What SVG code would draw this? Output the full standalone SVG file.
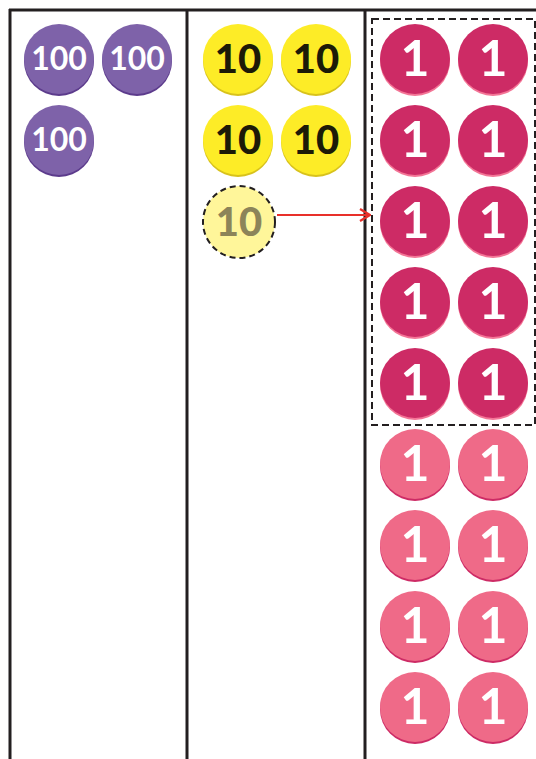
<svg xmlns="http://www.w3.org/2000/svg" width="536" height="759" viewBox="0 0 536 759">
<defs>
<style>
.frame{stroke:#231f20;stroke-width:3;fill:none}
.t{font-family:Lato,"Open Sans","Liberation Sans",sans-serif;font-weight:bold;text-anchor:middle}
.p .s{fill:#5c3b8c}.p .c{fill:#7e62a9}.p text{fill:#fff;font-size:32px}
.y .s{fill:#d8c21c}.y .c{fill:#fdec27}.y text{fill:#1c1a07;font-size:40px;font-weight:900}
.d .s{fill:#f37596}.d .c{fill:#cd2b65}.d text{fill:#fff;font-size:50px}
.l .s{fill:#cd2b65}.l .c{fill:#ef6a88}.l text{fill:#fff;font-size:50px}
</style>
<marker id="ah" viewBox="0 0 12 14" refX="11" refY="7" markerWidth="12" markerHeight="14" markerUnits="userSpaceOnUse" orient="auto"><path d="M1,1 L11,7 L1,13" fill="none" stroke="#e8302a" stroke-width="2.2"/></marker>
</defs>
<rect width="536" height="759" fill="#fff"/>
<g id="frame">
<path class="frame" d="M9,10 H536 M10,9 V759 M187,9 V759 M365,9 V759"/>
</g>
<g id="hundreds" class="p t">
<g id="h1"><circle class="s" cx="59" cy="61" r="35"/><circle class="c" cx="59" cy="59" r="35"/><text x="59" y="70">100</text></g>
<g id="h2"><circle class="s" cx="137" cy="61" r="35"/><circle class="c" cx="137" cy="59" r="35"/><text x="137" y="70">100</text></g>
<g id="h3"><circle class="s" cx="59" cy="142" r="35"/><circle class="c" cx="59" cy="140" r="35"/><text x="59" y="151">100</text></g>
</g>
<g id="tens" class="y t">
<g id="t1"><circle class="s" cx="238" cy="61" r="35"/><circle class="c" cx="238" cy="59" r="35"/><text x="238" y="73">10</text></g>
<g id="t2"><circle class="s" cx="316" cy="61" r="35"/><circle class="c" cx="316" cy="59" r="35"/><text x="316" y="73">10</text></g>
<g id="t3"><circle class="s" cx="238" cy="142" r="35"/><circle class="c" cx="238" cy="140" r="35"/><text x="238" y="154">10</text></g>
<g id="t4"><circle class="s" cx="316" cy="142" r="35"/><circle class="c" cx="316" cy="140" r="35"/><text x="316" y="154">10</text></g>
</g>
<g id="t5" class="t">
<circle cx="239" cy="222" r="36" fill="#fff69a" stroke="#231f20" stroke-width="2" stroke-dasharray="6,4"/>
<text x="239" y="236" fill="#8c8459" style="font-size:40px;font-weight:900">10</text>
</g>
<g id="group-box"><rect x="372" y="19" width="163" height="406" fill="none" stroke="#231f20" stroke-width="2" stroke-dasharray="7,4"/></g>
<g id="ones-new" class="d t">
<g><circle class="s" cx="415" cy="61" r="35"/><circle class="c" cx="415" cy="59" r="35"/><text x="415" y="76">1</text></g>
<g><circle class="s" cx="493" cy="61" r="35"/><circle class="c" cx="493" cy="59" r="35"/><text x="493" y="76">1</text></g>
<g><circle class="s" cx="415" cy="142" r="35"/><circle class="c" cx="415" cy="140" r="35"/><text x="415" y="157">1</text></g>
<g><circle class="s" cx="493" cy="142" r="35"/><circle class="c" cx="493" cy="140" r="35"/><text x="493" y="157">1</text></g>
<g><circle class="s" cx="415" cy="223" r="35"/><circle class="c" cx="415" cy="221" r="35"/><text x="415" y="238">1</text></g>
<g><circle class="s" cx="493" cy="223" r="35"/><circle class="c" cx="493" cy="221" r="35"/><text x="493" y="238">1</text></g>
<g><circle class="s" cx="415" cy="304" r="35"/><circle class="c" cx="415" cy="302" r="35"/><text x="415" y="319">1</text></g>
<g><circle class="s" cx="493" cy="304" r="35"/><circle class="c" cx="493" cy="302" r="35"/><text x="493" y="319">1</text></g>
<g><circle class="s" cx="415" cy="385" r="35"/><circle class="c" cx="415" cy="383" r="35"/><text x="415" y="400">1</text></g>
<g><circle class="s" cx="493" cy="385" r="35"/><circle class="c" cx="493" cy="383" r="35"/><text x="493" y="400">1</text></g>
</g>
<g id="ones" class="l t">
<g><circle class="s" cx="415" cy="466" r="35"/><circle class="c" cx="415" cy="464" r="35"/><text x="415" y="481">1</text></g>
<g><circle class="s" cx="493" cy="466" r="35"/><circle class="c" cx="493" cy="464" r="35"/><text x="493" y="481">1</text></g>
<g><circle class="s" cx="415" cy="547" r="35"/><circle class="c" cx="415" cy="545" r="35"/><text x="415" y="562">1</text></g>
<g><circle class="s" cx="493" cy="547" r="35"/><circle class="c" cx="493" cy="545" r="35"/><text x="493" y="562">1</text></g>
<g><circle class="s" cx="415" cy="628" r="35"/><circle class="c" cx="415" cy="626" r="35"/><text x="415" y="643">1</text></g>
<g><circle class="s" cx="493" cy="628" r="35"/><circle class="c" cx="493" cy="626" r="35"/><text x="493" y="643">1</text></g>
<g><circle class="s" cx="415" cy="709" r="35"/><circle class="c" cx="415" cy="707" r="35"/><text x="415" y="724">1</text></g>
<g><circle class="s" cx="493" cy="709" r="35"/><circle class="c" cx="493" cy="707" r="35"/><text x="493" y="724">1</text></g>
</g>
<g id="connectors">
<line x1="277" y1="215" x2="370" y2="215" stroke="#e8302a" stroke-width="2.2" marker-end="url(#ah)"/>
</g>
</svg>
